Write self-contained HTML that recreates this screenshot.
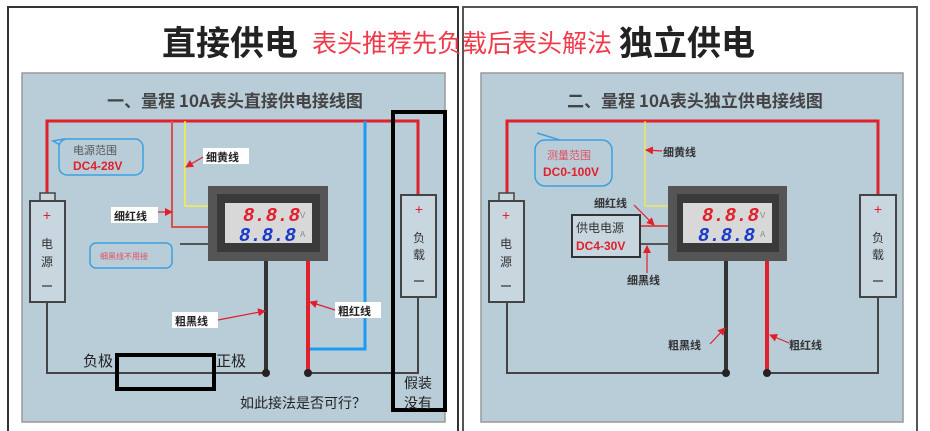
<!DOCTYPE html>
<html><head><meta charset="utf-8"><style>
html,body{margin:0;padding:0;background:#fff;}
svg{display:block;font-family:"Liberation Sans","Noto Sans CJK SC",sans-serif;}
</style></head><body>
<svg width="930" height="431" viewBox="0 0 930 431" xmlns="http://www.w3.org/2000/svg">
<defs>
<marker id="ar" markerWidth="8" markerHeight="8" refX="7" refY="4" orient="auto" markerUnits="userSpaceOnUse"><path d="M0,0 L8,4 L0,8 z" fill="#e0202a"/></marker>
</defs>
<!-- frames -->
<rect x="8" y="7" width="450" height="430" fill="none" stroke="#333" stroke-width="2"/>
<rect x="463" y="7" width="454" height="430" fill="none" stroke="#555" stroke-width="2"/>
<!-- titles -->
<text x="162" y="55" font-size="34" font-weight="bold" fill="#222" font-family="'Noto Sans CJK SC',sans-serif">直接供电</text>
<text x="312" y="52" font-size="25" fill="#f03a4a" font-family="'Noto Sans CJK SC',sans-serif">表头推荐先负载后表头解法</text>
<text x="619" y="55" font-size="34" font-weight="bold" fill="#222" font-family="'Noto Sans CJK SC',sans-serif">独立供电</text>

<!-- LEFT PANEL -->
<rect x="22" y="73" width="423" height="349" fill="#b9cdd9" stroke="#999" stroke-width="1.5"/>
<text x="235" y="107" font-size="17" font-weight="bold" fill="#444" text-anchor="middle" font-family="'Noto Sans CJK SC',sans-serif">一、量程 10A表头直接供电接线图</text>
<!-- wires -->
<polyline points="47,193 47,121 418,121 418,195" fill="none" stroke="#e0202a" stroke-width="3"/>
<polyline points="172,121 172,227 208,227" fill="none" stroke="#d85050" stroke-width="2"/>
<polyline points="185,121 185,206 208,206" fill="none" stroke="#f5f040" stroke-width="1.5"/>
<line x1="180" y1="244" x2="208" y2="244" stroke="#555" stroke-width="2"/>
<polyline points="47,302 47,373 266,373" fill="none" stroke="#444" stroke-width="2"/>
<polyline points="308,373 418,373 418,297" fill="none" stroke="#444" stroke-width="2"/>
<line x1="266" y1="261" x2="266" y2="373" stroke="#333" stroke-width="4"/>
<line x1="308" y1="261" x2="308" y2="373" stroke="#e0202a" stroke-width="4"/>
<circle cx="266" cy="373" r="4" fill="#222"/><circle cx="308" cy="373" r="4" fill="#222"/>
<polyline points="365,121 365,349 310,349" fill="none" stroke="#1a9cf0" stroke-width="3"/>
<!-- battery -->
<rect x="40" y="193" width="15" height="8" fill="#c8d6df" stroke="#444" stroke-width="1.5"/>
<rect x="30" y="201" width="35" height="101" fill="#c8d6df" stroke="#444" stroke-width="2"/>
<text x="47" y="220" font-size="14" fill="#e0202a" text-anchor="middle">+</text>
<text x="47" y="248" font-size="12" fill="#333" text-anchor="middle" font-family="'Noto Sans CJK SC',sans-serif">电</text>
<text x="47" y="266" font-size="12" fill="#333" text-anchor="middle" font-family="'Noto Sans CJK SC',sans-serif">源</text>
<line x1="42" y1="286" x2="52" y2="286" stroke="#333" stroke-width="1.2"/>
<!-- load -->
<rect x="401" y="195" width="35" height="102" fill="#c8d6df" stroke="#444" stroke-width="2"/>
<text x="419" y="214" font-size="14" fill="#e0202a" text-anchor="middle">+</text>
<text x="419" y="242" font-size="12" fill="#333" text-anchor="middle" font-family="'Noto Sans CJK SC',sans-serif">负</text>
<text x="419" y="259" font-size="12" fill="#333" text-anchor="middle" font-family="'Noto Sans CJK SC',sans-serif">载</text>
<line x1="414" y1="281" x2="424" y2="281" stroke="#333" stroke-width="1.2"/>
<!-- meter -->
<rect x="208" y="186" width="120" height="75" fill="#555"/>
<rect x="217" y="194" width="103" height="58" fill="#3a3a3a"/>
<rect x="225" y="203" width="87" height="40" fill="#d8d8d8"/>
<text x="243" y="221" font-size="19" font-style="italic" font-weight="bold" fill="#e0202a" font-family="'Liberation Mono',monospace">8.8.8</text>
<text x="239" y="241" font-size="19" font-style="italic" font-weight="bold" fill="#1a3ac8" font-family="'Liberation Mono',monospace">8.8.8</text>
<text x="300" y="218" font-size="8" fill="#888">V</text><text x="300" y="237" font-size="8" fill="#888">A</text>
<!-- callouts -->
<path d="M53,141 L62,146 L64,139 Z" fill="none" stroke="#3aa0e0" stroke-width="1.5"/>
<rect x="59" y="139" width="84" height="36" rx="8" fill="#b9cdd9" stroke="#3aa0e0" stroke-width="1.5"/>
<text x="73" y="154" font-size="11" fill="#555" font-family="'Noto Sans CJK SC',sans-serif">电源范围</text>
<text x="73" y="170" font-size="12" font-weight="bold" fill="#e0202a">DC4-28V</text>
<rect x="90" y="243" width="82" height="25" rx="6" fill="#b9cdd9" stroke="#3aa0e0" stroke-width="1.5"/>
<text x="100" y="259" font-size="8" fill="#e05060" font-family="'Noto Sans CJK SC',sans-serif">细黑线不用接</text>
<!-- labels -->
<rect x="203" y="148" width="46" height="16" fill="#fff"/>
<text x="206" y="161" font-size="11" font-weight="bold" fill="#222" font-family="'Noto Sans CJK SC',sans-serif">细黄线</text>
<line x1="203" y1="157" x2="186" y2="167" stroke="#e0202a" stroke-width="1.2" marker-end="url(#ar)"/>
<rect x="111" y="207" width="47" height="16" fill="#fff"/>
<text x="114" y="220" font-size="11" font-weight="bold" fill="#222" font-family="'Noto Sans CJK SC',sans-serif">细红线</text>
<line x1="158" y1="212" x2="172" y2="212" stroke="#e0202a" stroke-width="1.2" marker-end="url(#ar)"/>
<rect x="172" y="312" width="46" height="16" fill="#fff"/>
<text x="175" y="325" font-size="11" font-weight="bold" fill="#222" font-family="'Noto Sans CJK SC',sans-serif">粗黑线</text>
<line x1="218" y1="320" x2="265" y2="311" stroke="#e0202a" stroke-width="1.2" marker-end="url(#ar)"/>
<rect x="335" y="302" width="46" height="16" fill="#fff"/>
<text x="338" y="315" font-size="11" font-weight="bold" fill="#222" font-family="'Noto Sans CJK SC',sans-serif">粗红线</text>
<line x1="335" y1="310" x2="310" y2="302" stroke="#e0202a" stroke-width="1.2" marker-end="url(#ar)"/>
<!-- annotations -->
<text x="83" y="366" font-size="15" fill="#222" font-family="'Noto Sans CJK SC',sans-serif">负极</text>
<text x="216" y="366" font-size="15" fill="#222" font-family="'Noto Sans CJK SC',sans-serif">正极</text>
<rect x="117" y="355" width="97" height="34" fill="none" stroke="#000" stroke-width="4"/>
<rect x="393" y="112" width="52" height="298" fill="none" stroke="#000" stroke-width="4"/>
<text x="240" y="408" font-size="14" fill="#222" font-family="'Noto Sans CJK SC',sans-serif">如此接法是否可行？</text>
<text x="404" y="388" font-size="14" fill="#222" font-family="'Noto Sans CJK SC',sans-serif">假装</text>
<text x="404" y="408" font-size="14" fill="#222" font-family="'Noto Sans CJK SC',sans-serif">没有</text>

<!-- RIGHT PANEL -->
<rect x="481" y="73" width="422" height="349" fill="#b9cdd9" stroke="#999" stroke-width="1.5"/>
<text x="695" y="107" font-size="17" font-weight="bold" fill="#444" text-anchor="middle" font-family="'Noto Sans CJK SC',sans-serif">二、量程 10A表头独立供电接线图</text>
<polyline points="507,193 507,121 878,121 878,195" fill="none" stroke="#e0202a" stroke-width="3"/>
<polyline points="645,121 645,206 668,206" fill="none" stroke="#f5f040" stroke-width="1.2"/>
<line x1="640" y1="226" x2="668" y2="226" stroke="#d85050" stroke-width="2"/>
<line x1="640" y1="244" x2="668" y2="244" stroke="#555" stroke-width="2"/>
<polyline points="507,302 507,373 726,373" fill="none" stroke="#444" stroke-width="2"/>
<polyline points="767,373 878,373 878,297" fill="none" stroke="#444" stroke-width="2"/>
<line x1="726" y1="261" x2="726" y2="373" stroke="#333" stroke-width="4"/>
<line x1="767" y1="261" x2="767" y2="373" stroke="#e0202a" stroke-width="4"/>
<circle cx="726" cy="373" r="4" fill="#222"/><circle cx="767" cy="373" r="4" fill="#222"/>
<rect x="499" y="193" width="15" height="8" fill="#c8d6df" stroke="#444" stroke-width="1.5"/>
<rect x="489" y="201" width="35" height="101" fill="#c8d6df" stroke="#444" stroke-width="2"/>
<text x="506" y="220" font-size="14" fill="#e0202a" text-anchor="middle">+</text>
<text x="506" y="248" font-size="12" fill="#333" text-anchor="middle" font-family="'Noto Sans CJK SC',sans-serif">电</text>
<text x="506" y="266" font-size="12" fill="#333" text-anchor="middle" font-family="'Noto Sans CJK SC',sans-serif">源</text>
<line x1="501" y1="286" x2="511" y2="286" stroke="#333" stroke-width="1.2"/>
<rect x="860" y="195" width="36" height="102" fill="#c8d6df" stroke="#444" stroke-width="2"/>
<text x="878" y="214" font-size="14" fill="#e0202a" text-anchor="middle">+</text>
<text x="878" y="242" font-size="12" fill="#333" text-anchor="middle" font-family="'Noto Sans CJK SC',sans-serif">负</text>
<text x="878" y="259" font-size="12" fill="#333" text-anchor="middle" font-family="'Noto Sans CJK SC',sans-serif">载</text>
<line x1="873" y1="281" x2="883" y2="281" stroke="#333" stroke-width="1.2"/>
<rect x="668" y="186" width="119" height="75" fill="#555"/>
<rect x="677" y="194" width="102" height="58" fill="#3a3a3a"/>
<rect x="683" y="203" width="89" height="40" fill="#d8d8d8"/>
<text x="702" y="221" font-size="19" font-style="italic" font-weight="bold" fill="#e0202a" font-family="'Liberation Mono',monospace">8.8.8</text>
<text x="698" y="241" font-size="19" font-style="italic" font-weight="bold" fill="#1a3ac8" font-family="'Liberation Mono',monospace">8.8.8</text>
<text x="760" y="218" font-size="8" fill="#888">V</text><text x="760" y="237" font-size="8" fill="#888">A</text>
<rect x="572" y="215" width="68" height="42" fill="#c8d6df" stroke="#333" stroke-width="2"/>
<text x="576" y="232" font-size="12" fill="#333" font-family="'Noto Sans CJK SC',sans-serif">供电电源</text>
<text x="576" y="250" font-size="12" font-weight="bold" fill="#e0202a">DC4-30V</text>
<path d="M537,133 L560,140 L552,146" fill="none" stroke="#3aa0e0" stroke-width="1.5"/>
<rect x="535" y="140" width="77" height="46" rx="10" fill="#b9cdd9" stroke="#3aa0e0" stroke-width="1.5"/>
<text x="547" y="159" font-size="11" fill="#e05060" font-family="'Noto Sans CJK SC',sans-serif">测量范围</text>
<text x="543" y="176" font-size="12" font-weight="bold" fill="#e0202a">DC0-100V</text>
<text x="663" y="156" font-size="11" font-weight="bold" fill="#333" font-family="'Noto Sans CJK SC',sans-serif">细黄线</text>
<line x1="662" y1="151" x2="646" y2="150" stroke="#e0202a" stroke-width="1.2" marker-end="url(#ar)"/>
<text x="594" y="207" font-size="11" font-weight="bold" fill="#333" font-family="'Noto Sans CJK SC',sans-serif">细红线</text>
<line x1="634" y1="205" x2="654" y2="225" stroke="#e0202a" stroke-width="1.2" marker-end="url(#ar)"/>
<text x="627" y="284" font-size="11" font-weight="bold" fill="#333" font-family="'Noto Sans CJK SC',sans-serif">细黑线</text>
<line x1="647" y1="273" x2="647" y2="246" stroke="#e0202a" stroke-width="1.2" marker-end="url(#ar)"/>
<text x="668" y="349" font-size="11" font-weight="bold" fill="#333" font-family="'Noto Sans CJK SC',sans-serif">粗黑线</text>
<line x1="710" y1="344" x2="725" y2="328" stroke="#e0202a" stroke-width="1.2" marker-end="url(#ar)"/>
<text x="789" y="349" font-size="11" font-weight="bold" fill="#333" font-family="'Noto Sans CJK SC',sans-serif">粗红线</text>
<line x1="789" y1="343" x2="770" y2="335" stroke="#e0202a" stroke-width="1.2" marker-end="url(#ar)"/>
</svg>
</body></html>
